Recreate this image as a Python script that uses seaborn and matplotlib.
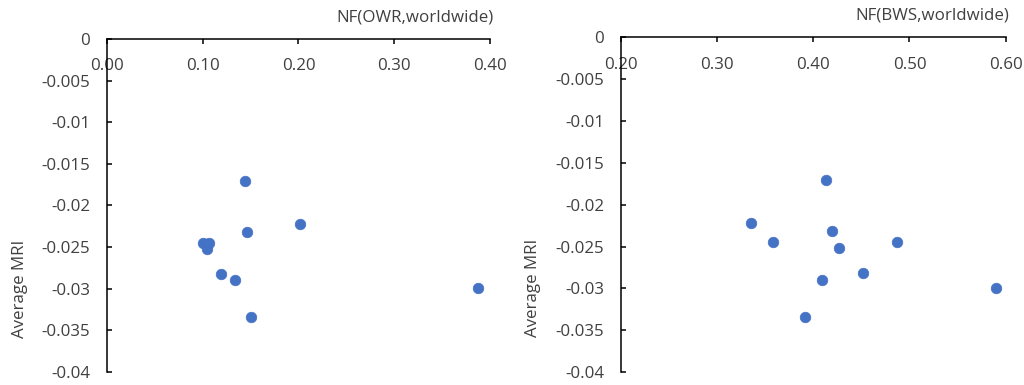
import pandas as pd
import seaborn as sns
import matplotlib.pyplot as plt

# Average MRI per item (shared by both panels)
avg_mri = [-0.0171, -0.0222, -0.0232, -0.0245, -0.0245, -0.0252,
           -0.0282, -0.0290, -0.0334, -0.0299]

# Normalisation factors
nf_owr = [0.144, 0.202, 0.146, 0.100, 0.107, 0.104, 0.119, 0.134, 0.150, 0.388]
nf_bws = [0.413, 0.335, 0.419, 0.358, 0.487, 0.427, 0.452, 0.409, 0.391, 0.590]

y_ticks = [0, -0.005, -0.01, -0.015, -0.02, -0.025, -0.03, -0.035, -0.04]
y_tick_labels = ['0', '-0.005', '-0.01', '-0.015', '-0.02', '-0.025', '-0.03', '-0.035', '-0.04']

panels = [
    ('NF(OWR,worldwide)', nf_owr, [0.0, 0.1, 0.2, 0.3, 0.4], [0.1045, 0.0338, 0.374, 0.865]),
    ('NF(BWS,worldwide)', nf_bws, [0.2, 0.3, 0.4, 0.5, 0.6], [0.6064, 0.0338, 0.3757, 0.869]),
]

sns.set_style('white')
plt.rcParams['font.family'] = ['Open Sans', 'DejaVu Sans']
text_color = '#404040'
fs = 12.2

fig = plt.figure(figsize=(10.24, 3.85), dpi=100)

for title, nf, x_ticks, rect in panels:
    ax = fig.add_axes(rect)
    df = pd.DataFrame({'NF': nf, 'MRI': avg_mri})
    sns.scatterplot(data=df, x='NF', y='MRI', ax=ax, color='#4472C4',
                    s=58, edgecolor='#4472C4', linewidth=0.5, zorder=3, clip_on=False)

    ax.set_xlim(x_ticks[0], x_ticks[-1])
    ax.set_ylim(-0.04, 0)
    ax.set_xticks(x_ticks)
    ax.set_xticklabels([f'{v:.2f}' for v in x_ticks])
    ax.set_yticks(y_ticks)
    ax.set_yticklabels(y_tick_labels)

    # x axis drawn across the top at y = 0, labels below it
    ax.spines['bottom'].set_position(('data', 0))
    ax.spines['top'].set_visible(False)
    ax.spines['right'].set_visible(False)
    for side in ['bottom', 'left']:
        ax.spines[side].set_color('black')
        ax.spines[side].set_linewidth(1.1)

    ax.tick_params(axis='x', direction='out', length=3.8, width=1.1, color='black',
                   pad=10, labelsize=fs, labelcolor=text_color, bottom=True)
    ax.tick_params(axis='y', direction='in', length=3.8, width=1.1, color='black',
                   pad=12, labelsize=fs, labelcolor=text_color, left=True)

    ax.set_xlabel(title, fontsize=fs, color=text_color)
    ax.xaxis.set_label_position('top')
    ax.xaxis.label.set_horizontalalignment('right')
    ax.xaxis.label.set_verticalalignment('center')
    ax.xaxis.set_label_coords(1.01, 1.065)

    ax.set_ylabel('Average MRI', fontsize=fs, color=text_color)
    ax.yaxis.label.set_verticalalignment('center')
    ax.yaxis.set_label_coords(-0.228, 0.25)

    ax.grid(False)

plt.savefig('out.png', dpi=100)
plt.close()
